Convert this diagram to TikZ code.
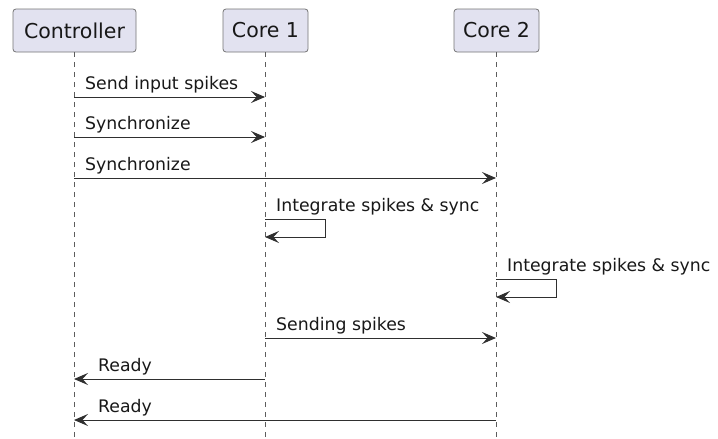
\documentclass[tikz,border=0pt]{standalone}
\usepackage{fontspec}
\setmainfont{DejaVu Sans}
\usetikzlibrary{arrows.meta}
\definecolor{ink}{HTML}{181818}
\definecolor{partfill}{HTML}{E2E2F0}
\tikzset{
  participant/.style={draw=ink!60, line width=0.8pt, fill=partfill, rounded corners=3pt,
    minimum height=43pt, inner sep=0pt, font=\fontsize{20.5}{24}\selectfont, text=ink},
  lifeline/.style={draw=ink!70, line width=0.6pt, dash pattern=on 5pt off 5pt},
  msg/.style={draw=ink!90, line width=1pt, -{Stealth[length=14pt,width=12pt,inset=5.5pt]}},
  msglabel/.style={font=\fontsize{17.3}{20}\selectfont, text=ink, inner sep=0pt, anchor=base west}
}
\begin{document}
\begin{tikzpicture}[x=1pt,y=-1pt]
  \useasboundingbox (0,0) rectangle (718,439);

  % participants
  \node[participant, minimum width=123pt] (ctrl) at (74.5,30.5) {Controller};
  \node[participant, minimum width=85pt] (core1) at (265.5,30.5) {Core 1};
  \node[participant, minimum width=85pt] (core2) at (496.5,30.5) {Core 2};

  % lifeline ends
  \coordinate (ctrlEnd) at (74,439);
  \coordinate (core1End) at (265,439);
  \coordinate (core2End) at (496,439);
  \draw[lifeline] (ctrl.south -| ctrlEnd) -- (ctrlEnd);
  \draw[lifeline] (core1.south -| core1End) -- (core1End);
  \draw[lifeline] (core2.south -| core2End) -- (core2End);

  % message anchor points on the lifelines
  \coordinate (m1a) at (74,97);   \coordinate (m1b) at (265,97);
  \coordinate (m2a) at (74,137);  \coordinate (m2b) at (265,137);
  \coordinate (m3a) at (74,178);  \coordinate (m3b) at (496,178);
  \coordinate (s1a) at (265,219); \coordinate (s1b) at (265,237);
  \coordinate (s2a) at (496,279); \coordinate (s2b) at (496,297);
  \coordinate (m6a) at (265,338); \coordinate (m6b) at (496,338);
  \coordinate (m7a) at (265,379); \coordinate (m7b) at (74,379);
  \coordinate (m8a) at (496,420); \coordinate (m8b) at (74,420);

  % messages
  \draw[msg] (m1a) -- (m1b);
  \node[msglabel] (l1) at (85,89.5) {Send input spikes};
  \draw[msg] (m2a) -- (m2b);
  \node[msglabel] (l2) at (85,129.5) {Synchronize};
  \draw[msg] (m3a) -- (m3b);
  \node[msglabel] (l3) at (85,170.5) {Synchronize};

  \draw[msg] (s1a) -- ++(60,0) |- (s1b);
  \node[msglabel] (l4) at (276,211.5) {Integrate spikes \& sync};
  \draw[msg] (s2a) -- ++(60,0) |- (s2b);
  \node[msglabel] (l5) at (507,271.5) {Integrate spikes \& sync};

  \draw[msg] (m6a) -- (m6b);
  \node[msglabel] (l6) at (276,330.5) {Sending spikes};
  \draw[msg] (m7a) -- (m7b);
  \node[msglabel] (l7) at (98,371.5) {Ready};
  \draw[msg] (m8a) -- (m8b);
  \node[msglabel] (l8) at (98,412.5) {Ready};
\end{tikzpicture}
\end{document}
